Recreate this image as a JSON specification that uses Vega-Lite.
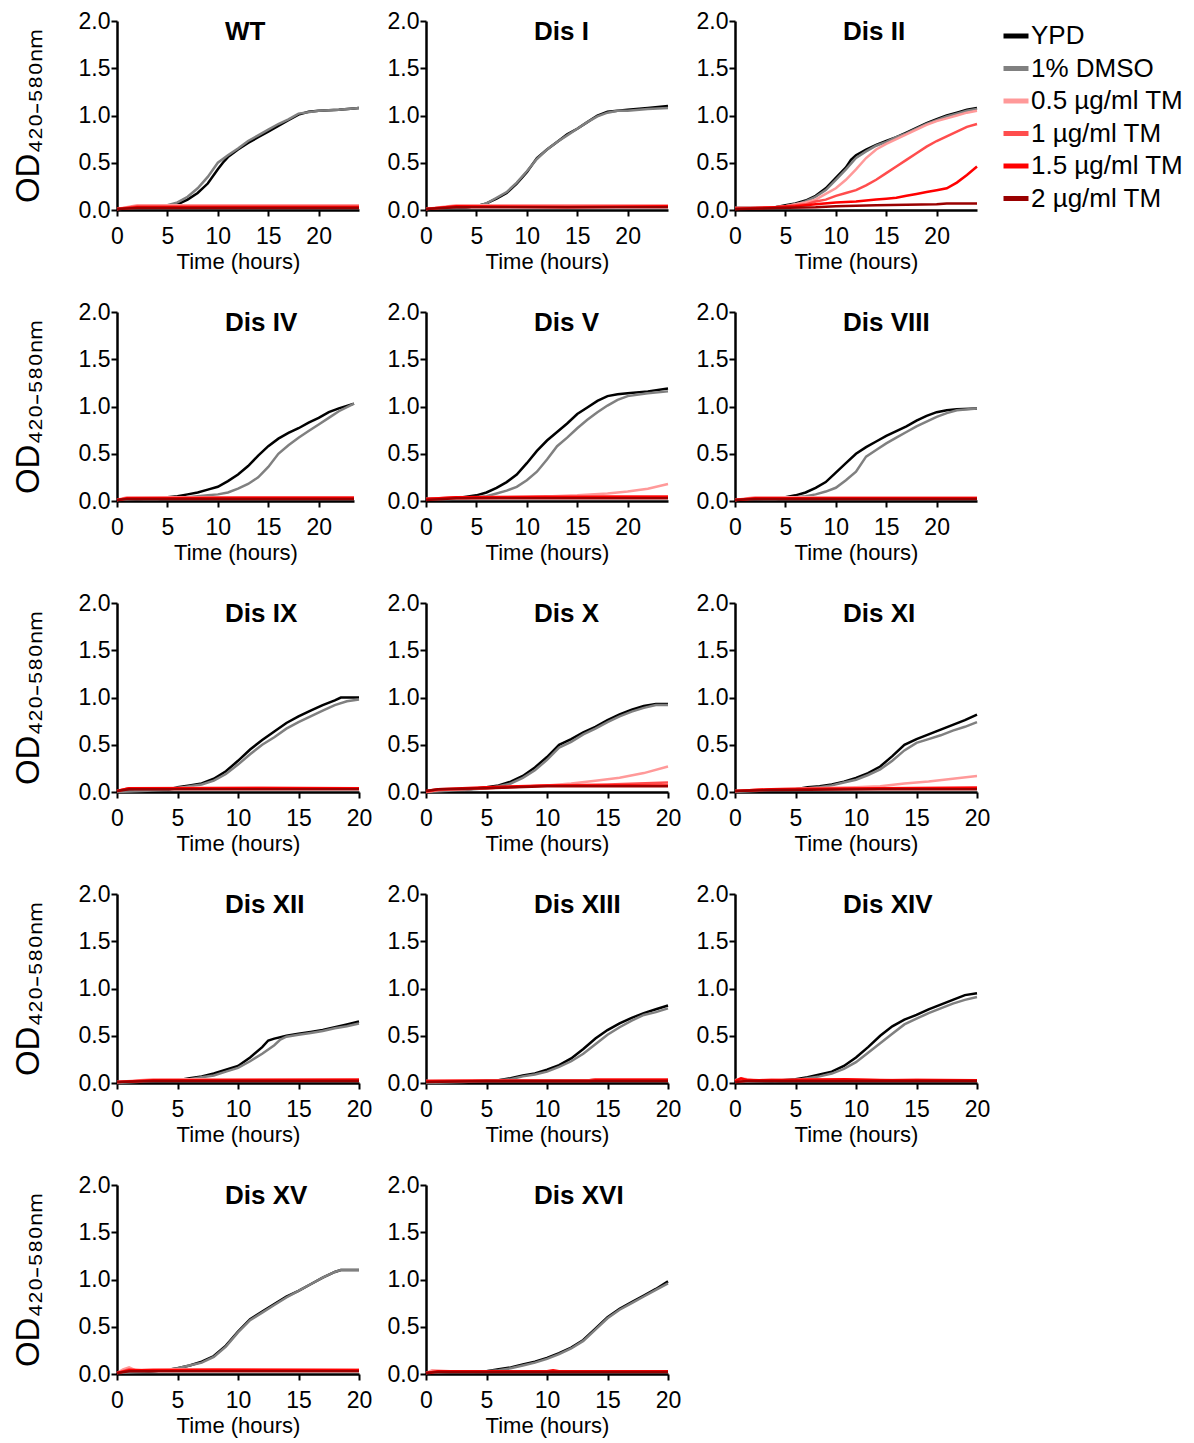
{
"$schema":"https://vega.github.io/schema/vega-lite/v6.json",
"padding":{"left":12,"top":10,"right":5,"bottom":5},
"columns":3,
"spacing":{"row":102,"column":67},
"bounds":"flush",
"datasets":{
"WT":[{"s":"Y","t":0,"v":0.01},{"s":"Y","t":2,"v":0.02},{"s":"Y","t":4,"v":0.03},{"s":"Y","t":5,"v":0.04},{"s":"Y","t":6,"v":0.06},{"s":"Y","t":7,"v":0.11},{"s":"Y","t":8,"v":0.18},{"s":"Y","t":9,"v":0.28},{"s":"Y","t":10,"v":0.43},{"s":"Y","t":10.5,"v":0.5},{"s":"Y","t":11,"v":0.56},{"s":"Y","t":12,"v":0.64},{"s":"Y","t":13,"v":0.71},{"s":"Y","t":14,"v":0.77},{"s":"Y","t":15,"v":0.83},{"s":"Y","t":16,"v":0.89},{"s":"Y","t":17,"v":0.95},{"s":"Y","t":18,"v":1.01},{"s":"Y","t":19,"v":1.04},{"s":"Y","t":20,"v":1.05},{"s":"Y","t":22,"v":1.06},{"s":"Y","t":24,"v":1.08},
{"s":"D","t":0,"v":0.01},{"s":"D","t":2,"v":0.02},{"s":"D","t":4,"v":0.03},{"s":"D","t":5,"v":0.05},{"s":"D","t":6,"v":0.08},{"s":"D","t":7,"v":0.14},{"s":"D","t":8,"v":0.23},{"s":"D","t":9,"v":0.35},{"s":"D","t":10,"v":0.5},{"s":"D","t":11,"v":0.58},{"s":"D","t":12,"v":0.65},{"s":"D","t":13,"v":0.73},{"s":"D","t":14,"v":0.79},{"s":"D","t":15,"v":0.85},{"s":"D","t":16,"v":0.91},{"s":"D","t":17,"v":0.96},{"s":"D","t":18,"v":1.02},{"s":"D","t":20,"v":1.05},{"s":"D","t":22,"v":1.06},{"s":"D","t":24,"v":1.08},
{"s":"a","t":0,"v":0.01},{"s":"a","t":2,"v":0.05},{"s":"a","t":12,"v":0.05},{"s":"a","t":24,"v":0.05},
{"s":"b","t":0,"v":0.01},{"s":"b","t":2,"v":0.04},{"s":"b","t":12,"v":0.04},{"s":"b","t":24,"v":0.04},
{"s":"c","t":0,"v":0.01},{"s":"c","t":2,"v":0.03},{"s":"c","t":12,"v":0.03},{"s":"c","t":24,"v":0.03},
{"s":"d","t":0,"v":0.01},{"s":"d","t":2,"v":0.02},{"s":"d","t":12,"v":0.02},{"s":"d","t":24,"v":0.02}],
"D1":[{"s":"Y","t":0,"v":0.01},{"s":"Y","t":2,"v":0.02},{"s":"Y","t":4,"v":0.03},{"s":"Y","t":5,"v":0.04},{"s":"Y","t":6,"v":0.07},{"s":"Y","t":7,"v":0.12},{"s":"Y","t":8,"v":0.18},{"s":"Y","t":9,"v":0.28},{"s":"Y","t":10,"v":0.4},{"s":"Y","t":11,"v":0.55},{"s":"Y","t":12,"v":0.64},{"s":"Y","t":13,"v":0.72},{"s":"Y","t":14,"v":0.8},{"s":"Y","t":15,"v":0.86},{"s":"Y","t":16,"v":0.93},{"s":"Y","t":17,"v":1.0},{"s":"Y","t":18,"v":1.04},{"s":"Y","t":19,"v":1.05},{"s":"Y","t":20,"v":1.06},{"s":"Y","t":22,"v":1.08},{"s":"Y","t":24,"v":1.1},
{"s":"D","t":0,"v":0.01},{"s":"D","t":2,"v":0.02},{"s":"D","t":4,"v":0.03},{"s":"D","t":5,"v":0.04},{"s":"D","t":6,"v":0.07},{"s":"D","t":7,"v":0.13},{"s":"D","t":8,"v":0.19},{"s":"D","t":9,"v":0.29},{"s":"D","t":10,"v":0.41},{"s":"D","t":11,"v":0.54},{"s":"D","t":12,"v":0.64},{"s":"D","t":13,"v":0.72},{"s":"D","t":14,"v":0.79},{"s":"D","t":15,"v":0.86},{"s":"D","t":16,"v":0.93},{"s":"D","t":17,"v":0.99},{"s":"D","t":18,"v":1.03},{"s":"D","t":19,"v":1.05},{"s":"D","t":20,"v":1.05},{"s":"D","t":22,"v":1.07},{"s":"D","t":24,"v":1.08},
{"s":"a","t":0,"v":0.01},{"s":"a","t":3,"v":0.05},{"s":"a","t":14,"v":0.05},{"s":"a","t":24,"v":0.05},
{"s":"b","t":0,"v":0.01},{"s":"b","t":3,"v":0.04},{"s":"b","t":14,"v":0.04},{"s":"b","t":24,"v":0.04},
{"s":"c","t":0,"v":0.01},{"s":"c","t":3,"v":0.04},{"s":"c","t":14,"v":0.03},{"s":"c","t":24,"v":0.04},
{"s":"d","t":0,"v":0.01},{"s":"d","t":3,"v":0.03},{"s":"d","t":14,"v":0.03},{"s":"d","t":24,"v":0.03}],
"D2":[{"s":"Y","t":0,"v":0.02},{"s":"Y","t":2,"v":0.02},{"s":"Y","t":4,"v":0.03},{"s":"Y","t":5,"v":0.05},{"s":"Y","t":6,"v":0.07},{"s":"Y","t":7,"v":0.1},{"s":"Y","t":8,"v":0.15},{"s":"Y","t":9,"v":0.23},{"s":"Y","t":10,"v":0.34},{"s":"Y","t":11,"v":0.45},{"s":"Y","t":11.5,"v":0.53},{"s":"Y","t":12,"v":0.58},{"s":"Y","t":13,"v":0.64},{"s":"Y","t":14,"v":0.69},{"s":"Y","t":15,"v":0.73},{"s":"Y","t":16,"v":0.77},{"s":"Y","t":17,"v":0.82},{"s":"Y","t":18,"v":0.87},{"s":"Y","t":19,"v":0.92},{"s":"Y","t":20,"v":0.96},{"s":"Y","t":21,"v":1.0},{"s":"Y","t":22,"v":1.03},{"s":"Y","t":23,"v":1.06},{"s":"Y","t":24,"v":1.08},
{"s":"D","t":0,"v":0.02},{"s":"D","t":2,"v":0.02},{"s":"D","t":4,"v":0.03},{"s":"D","t":5,"v":0.04},{"s":"D","t":6,"v":0.06},{"s":"D","t":7,"v":0.09},{"s":"D","t":8,"v":0.14},{"s":"D","t":9,"v":0.21},{"s":"D","t":10,"v":0.32},{"s":"D","t":11,"v":0.43},{"s":"D","t":12,"v":0.55},{"s":"D","t":13,"v":0.62},{"s":"D","t":14,"v":0.68},{"s":"D","t":15,"v":0.72},{"s":"D","t":16,"v":0.77},{"s":"D","t":17,"v":0.81},{"s":"D","t":18,"v":0.86},{"s":"D","t":19,"v":0.91},{"s":"D","t":20,"v":0.95},{"s":"D","t":21,"v":0.99},{"s":"D","t":22,"v":1.02},{"s":"D","t":23,"v":1.05},{"s":"D","t":24,"v":1.07},
{"s":"a","t":0,"v":0.02},{"s":"a","t":2,"v":0.02},{"s":"a","t":4,"v":0.03},{"s":"a","t":5,"v":0.04},{"s":"a","t":6,"v":0.06},{"s":"a","t":7,"v":0.08},{"s":"a","t":8,"v":0.11},{"s":"a","t":9,"v":0.17},{"s":"a","t":10,"v":0.23},{"s":"a","t":11,"v":0.32},{"s":"a","t":12,"v":0.43},{"s":"a","t":13,"v":0.55},{"s":"a","t":14,"v":0.64},{"s":"a","t":15,"v":0.7},{"s":"a","t":16,"v":0.75},{"s":"a","t":17,"v":0.8},{"s":"a","t":18,"v":0.85},{"s":"a","t":19,"v":0.9},{"s":"a","t":20,"v":0.94},{"s":"a","t":21,"v":0.97},{"s":"a","t":22,"v":1.0},{"s":"a","t":23,"v":1.03},{"s":"a","t":24,"v":1.05},
{"s":"b","t":0,"v":0.02},{"s":"b","t":2,"v":0.02},{"s":"b","t":4,"v":0.03},{"s":"b","t":5,"v":0.04},{"s":"b","t":6,"v":0.05},{"s":"b","t":7,"v":0.06},{"s":"b","t":8,"v":0.09},{"s":"b","t":9,"v":0.11},{"s":"b","t":10,"v":0.15},{"s":"b","t":11,"v":0.18},{"s":"b","t":12,"v":0.21},{"s":"b","t":13,"v":0.26},{"s":"b","t":14,"v":0.32},{"s":"b","t":15,"v":0.39},{"s":"b","t":16,"v":0.46},{"s":"b","t":17,"v":0.53},{"s":"b","t":18,"v":0.6},{"s":"b","t":19,"v":0.67},{"s":"b","t":20,"v":0.73},{"s":"b","t":21,"v":0.78},{"s":"b","t":22,"v":0.83},{"s":"b","t":23,"v":0.88},{"s":"b","t":24,"v":0.91},
{"s":"c","t":0,"v":0.01},{"s":"c","t":2,"v":0.02},{"s":"c","t":4,"v":0.03},{"s":"c","t":6,"v":0.04},{"s":"c","t":8,"v":0.06},{"s":"c","t":10,"v":0.08},{"s":"c","t":12,"v":0.09},{"s":"c","t":14,"v":0.11},{"s":"c","t":15,"v":0.12},{"s":"c","t":16,"v":0.13},{"s":"c","t":17,"v":0.15},{"s":"c","t":18,"v":0.17},{"s":"c","t":19,"v":0.19},{"s":"c","t":20,"v":0.21},{"s":"c","t":21,"v":0.23},{"s":"c","t":22,"v":0.29},{"s":"c","t":23,"v":0.37},{"s":"c","t":24,"v":0.46},
{"s":"d","t":0,"v":0.01},{"s":"d","t":4,"v":0.02},{"s":"d","t":8,"v":0.03},{"s":"d","t":10,"v":0.04},{"s":"d","t":14,"v":0.05},{"s":"d","t":20,"v":0.06},{"s":"d","t":21,"v":0.07},{"s":"d","t":24,"v":0.07}],
"D4":[{"s":"Y","t":0,"v":0.01},{"s":"Y","t":2,"v":0.02},{"s":"Y","t":4,"v":0.03},{"s":"Y","t":5,"v":0.04},{"s":"Y","t":6,"v":0.05},{"s":"Y","t":7,"v":0.07},{"s":"Y","t":8,"v":0.09},{"s":"Y","t":9,"v":0.12},{"s":"Y","t":10,"v":0.15},{"s":"Y","t":11,"v":0.21},{"s":"Y","t":12,"v":0.28},{"s":"Y","t":13,"v":0.37},{"s":"Y","t":14,"v":0.48},{"s":"Y","t":15,"v":0.58},{"s":"Y","t":16,"v":0.66},{"s":"Y","t":17,"v":0.72},{"s":"Y","t":18,"v":0.77},{"s":"Y","t":19,"v":0.83},{"s":"Y","t":20,"v":0.88},{"s":"Y","t":21,"v":0.94},{"s":"Y","t":22,"v":0.98},{"s":"Y","t":23.5,"v":1.03},
{"s":"D","t":0,"v":0.01},{"s":"D","t":2,"v":0.02},{"s":"D","t":4,"v":0.02},{"s":"D","t":5,"v":0.03},{"s":"D","t":6,"v":0.03},{"s":"D","t":7,"v":0.04},{"s":"D","t":8,"v":0.05},{"s":"D","t":9,"v":0.06},{"s":"D","t":10,"v":0.07},{"s":"D","t":11,"v":0.09},{"s":"D","t":12,"v":0.13},{"s":"D","t":13,"v":0.18},{"s":"D","t":14,"v":0.25},{"s":"D","t":15,"v":0.36},{"s":"D","t":16,"v":0.5},{"s":"D","t":17,"v":0.59},{"s":"D","t":18,"v":0.67},{"s":"D","t":19,"v":0.74},{"s":"D","t":20,"v":0.81},{"s":"D","t":21,"v":0.88},{"s":"D","t":22,"v":0.95},{"s":"D","t":23.5,"v":1.03},
{"s":"a","t":0,"v":0.01},{"s":"a","t":1,"v":0.04},{"s":"a","t":12,"v":0.04},{"s":"a","t":23.5,"v":0.04},
{"s":"b","t":0,"v":0.01},{"s":"b","t":1,"v":0.03},{"s":"b","t":12,"v":0.04},{"s":"b","t":23.5,"v":0.04},
{"s":"c","t":0,"v":0.01},{"s":"c","t":1,"v":0.03},{"s":"c","t":12,"v":0.03},{"s":"c","t":23.5,"v":0.03},
{"s":"d","t":0,"v":0.01},{"s":"d","t":1,"v":0.02},{"s":"d","t":12,"v":0.02},{"s":"d","t":23.5,"v":0.02}],
"D5":[{"s":"Y","t":0,"v":0.02},{"s":"Y","t":2,"v":0.03},{"s":"Y","t":3,"v":0.03},{"s":"Y","t":5,"v":0.06},{"s":"Y","t":6,"v":0.09},{"s":"Y","t":7,"v":0.14},{"s":"Y","t":8,"v":0.2},{"s":"Y","t":9,"v":0.28},{"s":"Y","t":10,"v":0.4},{"s":"Y","t":11,"v":0.53},{"s":"Y","t":12,"v":0.64},{"s":"Y","t":13,"v":0.73},{"s":"Y","t":14,"v":0.82},{"s":"Y","t":15,"v":0.92},{"s":"Y","t":16,"v":0.99},{"s":"Y","t":17,"v":1.06},{"s":"Y","t":18,"v":1.11},{"s":"Y","t":19,"v":1.13},{"s":"Y","t":20,"v":1.14},{"s":"Y","t":22,"v":1.16},{"s":"Y","t":24,"v":1.19},
{"s":"D","t":0,"v":0.02},{"s":"D","t":2,"v":0.02},{"s":"D","t":4,"v":0.03},{"s":"D","t":5,"v":0.04},{"s":"D","t":6,"v":0.05},{"s":"D","t":7,"v":0.08},{"s":"D","t":8,"v":0.11},{"s":"D","t":9,"v":0.15},{"s":"D","t":10,"v":0.22},{"s":"D","t":11,"v":0.31},{"s":"D","t":12,"v":0.44},{"s":"D","t":13,"v":0.58},{"s":"D","t":14,"v":0.67},{"s":"D","t":15,"v":0.77},{"s":"D","t":16,"v":0.86},{"s":"D","t":17,"v":0.94},{"s":"D","t":18,"v":1.01},{"s":"D","t":19,"v":1.07},{"s":"D","t":20,"v":1.11},{"s":"D","t":22,"v":1.14},{"s":"D","t":24,"v":1.16},
{"s":"a","t":0,"v":0.02},{"s":"a","t":5,"v":0.03},{"s":"a","t":10,"v":0.04},{"s":"a","t":15,"v":0.06},{"s":"a","t":18,"v":0.08},{"s":"a","t":20,"v":0.1},{"s":"a","t":22,"v":0.13},{"s":"a","t":24,"v":0.18},
{"s":"b","t":0,"v":0.02},{"s":"b","t":3,"v":0.04},{"s":"b","t":12,"v":0.05},{"s":"b","t":24,"v":0.05},
{"s":"c","t":0,"v":0.02},{"s":"c","t":3,"v":0.04},{"s":"c","t":12,"v":0.04},{"s":"c","t":24,"v":0.04},
{"s":"d","t":0,"v":0.01},{"s":"d","t":3,"v":0.03},{"s":"d","t":12,"v":0.03},{"s":"d","t":24,"v":0.03}],
"D8":[{"s":"Y","t":0,"v":0.01},{"s":"Y","t":2,"v":0.02},{"s":"Y","t":4,"v":0.03},{"s":"Y","t":5,"v":0.04},{"s":"Y","t":6,"v":0.06},{"s":"Y","t":7,"v":0.09},{"s":"Y","t":8,"v":0.14},{"s":"Y","t":9,"v":0.2},{"s":"Y","t":10,"v":0.3},{"s":"Y","t":11,"v":0.4},{"s":"Y","t":12,"v":0.5},{"s":"Y","t":13,"v":0.57},{"s":"Y","t":14,"v":0.63},{"s":"Y","t":15,"v":0.69},{"s":"Y","t":16,"v":0.74},{"s":"Y","t":17,"v":0.79},{"s":"Y","t":18,"v":0.85},{"s":"Y","t":19,"v":0.9},{"s":"Y","t":20,"v":0.94},{"s":"Y","t":21,"v":0.96},{"s":"Y","t":22,"v":0.97},{"s":"Y","t":24,"v":0.98},
{"s":"D","t":0,"v":0.01},{"s":"D","t":2,"v":0.02},{"s":"D","t":4,"v":0.02},{"s":"D","t":5,"v":0.03},{"s":"D","t":6,"v":0.04},{"s":"D","t":7,"v":0.05},{"s":"D","t":8,"v":0.07},{"s":"D","t":9,"v":0.1},{"s":"D","t":10,"v":0.14},{"s":"D","t":11,"v":0.22},{"s":"D","t":12,"v":0.31},{"s":"D","t":13,"v":0.47},{"s":"D","t":14,"v":0.54},{"s":"D","t":15,"v":0.61},{"s":"D","t":16,"v":0.67},{"s":"D","t":17,"v":0.73},{"s":"D","t":18,"v":0.79},{"s":"D","t":19,"v":0.84},{"s":"D","t":20,"v":0.89},{"s":"D","t":21,"v":0.93},{"s":"D","t":22,"v":0.96},{"s":"D","t":24,"v":0.98},
{"s":"a","t":0,"v":0.01},{"s":"a","t":2,"v":0.04},{"s":"a","t":12,"v":0.04},{"s":"a","t":24,"v":0.04},
{"s":"b","t":0,"v":0.01},{"s":"b","t":2,"v":0.03},{"s":"b","t":12,"v":0.03},{"s":"b","t":24,"v":0.03},
{"s":"c","t":0,"v":0.01},{"s":"c","t":2,"v":0.03},{"s":"c","t":12,"v":0.03},{"s":"c","t":24,"v":0.03},
{"s":"d","t":0,"v":0.01},{"s":"d","t":2,"v":0.02},{"s":"d","t":12,"v":0.02},{"s":"d","t":24,"v":0.02}],
"D9":[{"s":"Y","t":0,"v":0.0},{"s":"Y","t":2,"v":0.01},{"s":"Y","t":4,"v":0.02},{"s":"Y","t":5,"v":0.05},{"s":"Y","t":6,"v":0.07},{"s":"Y","t":7,"v":0.09},{"s":"Y","t":8,"v":0.14},{"s":"Y","t":9,"v":0.22},{"s":"Y","t":10,"v":0.33},{"s":"Y","t":11,"v":0.45},{"s":"Y","t":12,"v":0.55},{"s":"Y","t":13,"v":0.64},{"s":"Y","t":14,"v":0.73},{"s":"Y","t":15,"v":0.8},{"s":"Y","t":16,"v":0.86},{"s":"Y","t":17,"v":0.92},{"s":"Y","t":18,"v":0.97},{"s":"Y","t":18.5,"v":1.0},{"s":"Y","t":20,"v":1.0},
{"s":"D","t":0,"v":0.0},{"s":"D","t":2,"v":0.01},{"s":"D","t":4,"v":0.02},{"s":"D","t":5,"v":0.04},{"s":"D","t":6,"v":0.06},{"s":"D","t":7,"v":0.08},{"s":"D","t":8,"v":0.12},{"s":"D","t":9,"v":0.19},{"s":"D","t":10,"v":0.29},{"s":"D","t":11,"v":0.4},{"s":"D","t":12,"v":0.5},{"s":"D","t":13,"v":0.58},{"s":"D","t":14,"v":0.67},{"s":"D","t":15,"v":0.74},{"s":"D","t":16,"v":0.8},{"s":"D","t":17,"v":0.86},{"s":"D","t":18,"v":0.92},{"s":"D","t":19,"v":0.96},{"s":"D","t":20,"v":0.98},
{"s":"a","t":0,"v":0.01},{"s":"a","t":1,"v":0.04},{"s":"a","t":12,"v":0.05},{"s":"a","t":20,"v":0.04},
{"s":"b","t":0,"v":0.01},{"s":"b","t":1,"v":0.04},{"s":"b","t":12,"v":0.04},{"s":"b","t":20,"v":0.04},
{"s":"c","t":0,"v":0.01},{"s":"c","t":1,"v":0.04},{"s":"c","t":12,"v":0.04},{"s":"c","t":20,"v":0.04},
{"s":"d","t":0,"v":0.01},{"s":"d","t":1,"v":0.03},{"s":"d","t":12,"v":0.03},{"s":"d","t":20,"v":0.03}],
"D10":[{"s":"Y","t":0,"v":0.0},{"s":"Y","t":3,"v":0.02},{"s":"Y","t":5,"v":0.05},{"s":"Y","t":6,"v":0.07},{"s":"Y","t":7,"v":0.11},{"s":"Y","t":8,"v":0.17},{"s":"Y","t":9,"v":0.26},{"s":"Y","t":10,"v":0.37},{"s":"Y","t":11,"v":0.5},{"s":"Y","t":12,"v":0.56},{"s":"Y","t":13,"v":0.63},{"s":"Y","t":14,"v":0.69},{"s":"Y","t":15,"v":0.76},{"s":"Y","t":16,"v":0.82},{"s":"Y","t":17,"v":0.87},{"s":"Y","t":18,"v":0.91},{"s":"Y","t":19,"v":0.93},{"s":"Y","t":20,"v":0.93},
{"s":"D","t":0,"v":0.0},{"s":"D","t":3,"v":0.02},{"s":"D","t":5,"v":0.04},{"s":"D","t":6,"v":0.06},{"s":"D","t":7,"v":0.09},{"s":"D","t":8,"v":0.15},{"s":"D","t":9,"v":0.23},{"s":"D","t":10,"v":0.34},{"s":"D","t":11,"v":0.47},{"s":"D","t":12,"v":0.53},{"s":"D","t":13,"v":0.61},{"s":"D","t":14,"v":0.67},{"s":"D","t":15,"v":0.74},{"s":"D","t":16,"v":0.8},{"s":"D","t":17,"v":0.85},{"s":"D","t":18,"v":0.89},{"s":"D","t":19,"v":0.92},{"s":"D","t":20,"v":0.92},
{"s":"a","t":0,"v":0.0},{"s":"a","t":1,"v":0.02},{"s":"a","t":5,"v":0.04},{"s":"a","t":10,"v":0.07},{"s":"a","t":12,"v":0.09},{"s":"a","t":14,"v":0.12},{"s":"a","t":16,"v":0.15},{"s":"a","t":18,"v":0.2},{"s":"a","t":20,"v":0.27},
{"s":"b","t":0,"v":0.0},{"s":"b","t":1,"v":0.02},{"s":"b","t":5,"v":0.04},{"s":"b","t":10,"v":0.07},{"s":"b","t":15,"v":0.08},{"s":"b","t":20,"v":0.1},
{"s":"c","t":0,"v":0.01},{"s":"c","t":1,"v":0.03},{"s":"c","t":5,"v":0.05},{"s":"c","t":10,"v":0.07},{"s":"c","t":20,"v":0.07},
{"s":"d","t":0,"v":0.01},{"s":"d","t":1,"v":0.03},{"s":"d","t":5,"v":0.04},{"s":"d","t":10,"v":0.06},{"s":"d","t":20,"v":0.06}],
"D11":[{"s":"Y","t":0,"v":0.0},{"s":"Y","t":3,"v":0.02},{"s":"Y","t":5,"v":0.03},{"s":"Y","t":6,"v":0.05},{"s":"Y","t":7,"v":0.06},{"s":"Y","t":8,"v":0.08},{"s":"Y","t":9,"v":0.11},{"s":"Y","t":10,"v":0.15},{"s":"Y","t":11,"v":0.2},{"s":"Y","t":12,"v":0.27},{"s":"Y","t":13,"v":0.38},{"s":"Y","t":14,"v":0.5},{"s":"Y","t":15,"v":0.56},{"s":"Y","t":16,"v":0.61},{"s":"Y","t":17,"v":0.66},{"s":"Y","t":18,"v":0.71},{"s":"Y","t":19,"v":0.76},{"s":"Y","t":20,"v":0.82},
{"s":"D","t":0,"v":0.0},{"s":"D","t":3,"v":0.02},{"s":"D","t":5,"v":0.03},{"s":"D","t":6,"v":0.04},{"s":"D","t":7,"v":0.05},{"s":"D","t":8,"v":0.07},{"s":"D","t":9,"v":0.1},{"s":"D","t":10,"v":0.13},{"s":"D","t":11,"v":0.18},{"s":"D","t":12,"v":0.24},{"s":"D","t":13,"v":0.33},{"s":"D","t":14,"v":0.44},{"s":"D","t":15,"v":0.52},{"s":"D","t":16,"v":0.56},{"s":"D","t":17,"v":0.6},{"s":"D","t":18,"v":0.65},{"s":"D","t":19,"v":0.69},{"s":"D","t":20,"v":0.74},
{"s":"a","t":0,"v":0.01},{"s":"a","t":3,"v":0.03},{"s":"a","t":6,"v":0.04},{"s":"a","t":10,"v":0.05},{"s":"a","t":12,"v":0.06},{"s":"a","t":14,"v":0.09},{"s":"a","t":16,"v":0.11},{"s":"a","t":18,"v":0.14},{"s":"a","t":20,"v":0.17},
{"s":"b","t":0,"v":0.01},{"s":"b","t":3,"v":0.03},{"s":"b","t":12,"v":0.04},{"s":"b","t":20,"v":0.05},
{"s":"c","t":0,"v":0.01},{"s":"c","t":3,"v":0.03},{"s":"c","t":12,"v":0.04},{"s":"c","t":20,"v":0.04},
{"s":"d","t":0,"v":0.01},{"s":"d","t":3,"v":0.02},{"s":"d","t":12,"v":0.03},{"s":"d","t":20,"v":0.03}],
"D12":[{"s":"Y","t":0,"v":0.0},{"s":"Y","t":3,"v":0.02},{"s":"Y","t":5,"v":0.03},{"s":"Y","t":6,"v":0.05},{"s":"Y","t":7,"v":0.07},{"s":"Y","t":8,"v":0.1},{"s":"Y","t":9,"v":0.14},{"s":"Y","t":10,"v":0.18},{"s":"Y","t":11,"v":0.27},{"s":"Y","t":12,"v":0.38},{"s":"Y","t":12.5,"v":0.45},{"s":"Y","t":13,"v":0.47},{"s":"Y","t":14,"v":0.5},{"s":"Y","t":15,"v":0.52},{"s":"Y","t":16,"v":0.54},{"s":"Y","t":17,"v":0.56},{"s":"Y","t":18,"v":0.59},{"s":"Y","t":19,"v":0.62},{"s":"Y","t":20,"v":0.65},
{"s":"D","t":0,"v":0.0},{"s":"D","t":3,"v":0.02},{"s":"D","t":5,"v":0.03},{"s":"D","t":6,"v":0.04},{"s":"D","t":7,"v":0.06},{"s":"D","t":8,"v":0.08},{"s":"D","t":9,"v":0.12},{"s":"D","t":10,"v":0.16},{"s":"D","t":11,"v":0.23},{"s":"D","t":12,"v":0.31},{"s":"D","t":13,"v":0.4},{"s":"D","t":13.5,"v":0.46},{"s":"D","t":14,"v":0.49},{"s":"D","t":15,"v":0.51},{"s":"D","t":16,"v":0.53},{"s":"D","t":17,"v":0.55},{"s":"D","t":18,"v":0.58},{"s":"D","t":19,"v":0.6},{"s":"D","t":20,"v":0.63},
{"s":"a","t":0,"v":0.01},{"s":"a","t":3,"v":0.04},{"s":"a","t":20,"v":0.04},
{"s":"b","t":0,"v":0.01},{"s":"b","t":3,"v":0.03},{"s":"b","t":20,"v":0.04},
{"s":"c","t":0,"v":0.01},{"s":"c","t":3,"v":0.03},{"s":"c","t":20,"v":0.03},
{"s":"d","t":0,"v":0.01},{"s":"d","t":3,"v":0.02},{"s":"d","t":20,"v":0.02}],
"D13":[{"s":"Y","t":0,"v":0.0},{"s":"Y","t":3,"v":0.01},{"s":"Y","t":5,"v":0.02},{"s":"Y","t":6,"v":0.03},{"s":"Y","t":7,"v":0.05},{"s":"Y","t":8,"v":0.08},{"s":"Y","t":9,"v":0.1},{"s":"Y","t":10,"v":0.14},{"s":"Y","t":11,"v":0.19},{"s":"Y","t":12,"v":0.26},{"s":"Y","t":13,"v":0.36},{"s":"Y","t":14,"v":0.47},{"s":"Y","t":15,"v":0.56},{"s":"Y","t":16,"v":0.63},{"s":"Y","t":17,"v":0.69},{"s":"Y","t":18,"v":0.74},{"s":"Y","t":19,"v":0.78},{"s":"Y","t":20,"v":0.82},
{"s":"D","t":0,"v":0.0},{"s":"D","t":3,"v":0.01},{"s":"D","t":5,"v":0.02},{"s":"D","t":6,"v":0.03},{"s":"D","t":7,"v":0.04},{"s":"D","t":8,"v":0.07},{"s":"D","t":9,"v":0.09},{"s":"D","t":10,"v":0.12},{"s":"D","t":11,"v":0.17},{"s":"D","t":12,"v":0.23},{"s":"D","t":13,"v":0.31},{"s":"D","t":14,"v":0.41},{"s":"D","t":15,"v":0.51},{"s":"D","t":16,"v":0.59},{"s":"D","t":17,"v":0.66},{"s":"D","t":18,"v":0.72},{"s":"D","t":19,"v":0.75},{"s":"D","t":20,"v":0.79},
{"s":"a","t":0,"v":0.02},{"s":"a","t":5,"v":0.03},{"s":"a","t":13.5,"v":0.03},{"s":"a","t":14,"v":0.04},{"s":"a","t":20,"v":0.04},
{"s":"b","t":0,"v":0.02},{"s":"b","t":5,"v":0.03},{"s":"b","t":13.5,"v":0.03},{"s":"b","t":14,"v":0.04},{"s":"b","t":20,"v":0.04},
{"s":"c","t":0,"v":0.02},{"s":"c","t":5,"v":0.02},{"s":"c","t":13.5,"v":0.02},{"s":"c","t":14,"v":0.03},{"s":"c","t":20,"v":0.03},
{"s":"d","t":0,"v":0.01},{"s":"d","t":5,"v":0.02},{"s":"d","t":20,"v":0.02}],
"D14":[{"s":"Y","t":0,"v":0.01},{"s":"Y","t":3,"v":0.02},{"s":"Y","t":5,"v":0.04},{"s":"Y","t":6,"v":0.06},{"s":"Y","t":7,"v":0.09},{"s":"Y","t":8,"v":0.12},{"s":"Y","t":9,"v":0.18},{"s":"Y","t":10,"v":0.27},{"s":"Y","t":11,"v":0.38},{"s":"Y","t":12,"v":0.5},{"s":"Y","t":13,"v":0.6},{"s":"Y","t":14,"v":0.67},{"s":"Y","t":15,"v":0.72},{"s":"Y","t":16,"v":0.78},{"s":"Y","t":17,"v":0.83},{"s":"Y","t":18,"v":0.88},{"s":"Y","t":19,"v":0.93},{"s":"Y","t":20,"v":0.95},
{"s":"D","t":0,"v":0.01},{"s":"D","t":3,"v":0.02},{"s":"D","t":5,"v":0.03},{"s":"D","t":6,"v":0.05},{"s":"D","t":7,"v":0.07},{"s":"D","t":8,"v":0.1},{"s":"D","t":9,"v":0.15},{"s":"D","t":10,"v":0.22},{"s":"D","t":11,"v":0.32},{"s":"D","t":12,"v":0.42},{"s":"D","t":13,"v":0.52},{"s":"D","t":14,"v":0.62},{"s":"D","t":15,"v":0.68},{"s":"D","t":16,"v":0.74},{"s":"D","t":17,"v":0.79},{"s":"D","t":18,"v":0.84},{"s":"D","t":19,"v":0.88},{"s":"D","t":20,"v":0.91},
{"s":"a","t":0,"v":0.03},{"s":"a","t":0.5,"v":0.05},{"s":"a","t":1,"v":0.04},{"s":"a","t":2,"v":0.03},{"s":"a","t":3,"v":0.04},{"s":"a","t":5,"v":0.03},{"s":"a","t":8,"v":0.04},{"s":"a","t":12,"v":0.03},{"s":"a","t":15,"v":0.04},{"s":"a","t":20,"v":0.03},
{"s":"b","t":0,"v":0.02},{"s":"b","t":0.5,"v":0.04},{"s":"b","t":1.5,"v":0.03},{"s":"b","t":3,"v":0.03},{"s":"b","t":6,"v":0.04},{"s":"b","t":10,"v":0.03},{"s":"b","t":14,"v":0.03},{"s":"b","t":20,"v":0.03},
{"s":"c","t":0,"v":0.02},{"s":"c","t":0.5,"v":0.05},{"s":"c","t":1,"v":0.03},{"s":"c","t":4,"v":0.03},{"s":"c","t":9,"v":0.04},{"s":"c","t":13,"v":0.03},{"s":"c","t":20,"v":0.03},
{"s":"d","t":0,"v":0.01},{"s":"d","t":1,"v":0.02},{"s":"d","t":20,"v":0.02}],
"D15":[{"s":"Y","t":0,"v":0.01},{"s":"Y","t":2,"v":0.02},{"s":"Y","t":4,"v":0.04},{"s":"Y","t":5,"v":0.06},{"s":"Y","t":6,"v":0.09},{"s":"Y","t":7,"v":0.13},{"s":"Y","t":8,"v":0.19},{"s":"Y","t":9,"v":0.3},{"s":"Y","t":10,"v":0.45},{"s":"Y","t":11,"v":0.58},{"s":"Y","t":12,"v":0.66},{"s":"Y","t":13,"v":0.74},{"s":"Y","t":14,"v":0.82},{"s":"Y","t":15,"v":0.88},{"s":"Y","t":16,"v":0.95},{"s":"Y","t":17,"v":1.02},{"s":"Y","t":18,"v":1.08},{"s":"Y","t":18.5,"v":1.1},{"s":"Y","t":20,"v":1.1},
{"s":"D","t":0,"v":0.01},{"s":"D","t":2,"v":0.02},{"s":"D","t":4,"v":0.04},{"s":"D","t":5,"v":0.06},{"s":"D","t":6,"v":0.09},{"s":"D","t":7,"v":0.12},{"s":"D","t":8,"v":0.18},{"s":"D","t":9,"v":0.29},{"s":"D","t":10,"v":0.44},{"s":"D","t":11,"v":0.57},{"s":"D","t":12,"v":0.65},{"s":"D","t":13,"v":0.73},{"s":"D","t":14,"v":0.81},{"s":"D","t":15,"v":0.88},{"s":"D","t":16,"v":0.95},{"s":"D","t":17,"v":1.02},{"s":"D","t":18,"v":1.08},{"s":"D","t":18.5,"v":1.1},{"s":"D","t":20,"v":1.1},
{"s":"a","t":0,"v":0.01},{"s":"a","t":0.5,"v":0.05},{"s":"a","t":1,"v":0.07},{"s":"a","t":1.5,"v":0.04},{"s":"a","t":3,"v":0.05},{"s":"a","t":10,"v":0.05},{"s":"a","t":14,"v":0.05},{"s":"a","t":20,"v":0.05},
{"s":"b","t":0,"v":0.01},{"s":"b","t":1,"v":0.05},{"s":"b","t":2,"v":0.04},{"s":"b","t":8,"v":0.05},{"s":"b","t":20,"v":0.04},
{"s":"c","t":0,"v":0.01},{"s":"c","t":1,"v":0.04},{"s":"c","t":3,"v":0.04},{"s":"c","t":20,"v":0.04},
{"s":"d","t":0,"v":0.01},{"s":"d","t":1,"v":0.03},{"s":"d","t":20,"v":0.03}],
"D16":[{"s":"Y","t":0,"v":0.01},{"s":"Y","t":2,"v":0.02},{"s":"Y","t":4,"v":0.02},{"s":"Y","t":5,"v":0.03},{"s":"Y","t":6,"v":0.05},{"s":"Y","t":7,"v":0.07},{"s":"Y","t":8,"v":0.1},{"s":"Y","t":9,"v":0.13},{"s":"Y","t":10,"v":0.17},{"s":"Y","t":11,"v":0.22},{"s":"Y","t":12,"v":0.28},{"s":"Y","t":13,"v":0.36},{"s":"Y","t":14,"v":0.48},{"s":"Y","t":15,"v":0.6},{"s":"Y","t":16,"v":0.69},{"s":"Y","t":17,"v":0.76},{"s":"Y","t":18,"v":0.83},{"s":"Y","t":19,"v":0.9},{"s":"Y","t":20,"v":0.98},
{"s":"D","t":0,"v":0.01},{"s":"D","t":2,"v":0.02},{"s":"D","t":4,"v":0.02},{"s":"D","t":5,"v":0.03},{"s":"D","t":6,"v":0.04},{"s":"D","t":7,"v":0.06},{"s":"D","t":8,"v":0.09},{"s":"D","t":9,"v":0.12},{"s":"D","t":10,"v":0.16},{"s":"D","t":11,"v":0.21},{"s":"D","t":12,"v":0.27},{"s":"D","t":13,"v":0.35},{"s":"D","t":14,"v":0.47},{"s":"D","t":15,"v":0.59},{"s":"D","t":16,"v":0.68},{"s":"D","t":17,"v":0.75},{"s":"D","t":18,"v":0.82},{"s":"D","t":19,"v":0.89},{"s":"D","t":20,"v":0.96},
{"s":"a","t":0,"v":0.01},{"s":"a","t":0.5,"v":0.04},{"s":"a","t":2,"v":0.03},{"s":"a","t":20,"v":0.03},
{"s":"b","t":0,"v":0.01},{"s":"b","t":1,"v":0.03},{"s":"b","t":20,"v":0.03},
{"s":"c","t":0,"v":0.01},{"s":"c","t":1,"v":0.03},{"s":"c","t":10,"v":0.03},{"s":"c","t":10.5,"v":0.04},{"s":"c","t":11,"v":0.03},{"s":"c","t":20,"v":0.03},
{"s":"d","t":0,"v":0.01},{"s":"d","t":1,"v":0.02},{"s":"d","t":20,"v":0.02}]
},
"concat":[
{"width":242,"height":189,"layer":[{"data":{"name":"WT"},"mark":{"type":"line","strokeWidth":2.5},"encoding":{"x":{"field":"t","type":"quantitative","scale":{"domain":[0,24],"nice":false},"axis":{"values":[0,5,10,15,20],"title":"Time (hours)"}},"y":{"field":"v","type":"quantitative","scale":{"domain":[0,2],"nice":false},"axis":{"values":[0,0.5,1,1.5,2],"format":".1f","title":"OD₄₂₀₋₅₈₀ₙₘ"}},"color":{"field":"s","type":"nominal","scale":{"domain":["Y","D","a","b","c","d"],"range":["#000000","#808080","#ff9999","#ff4d4d","#ff0000","#990000"]},"legend":{"title":null,"labelExpr":"datum.label=='Y'?'YPD':datum.label=='D'?'1% DMSO':datum.label=='a'?'0.5 µg/ml TM':datum.label=='b'?'1 µg/ml TM':datum.label=='c'?'1.5 µg/ml TM':'2 µg/ml TM'"}}}},{"data":{"values":[{"n":"WT"}]},"mark":{"type":"text","align":"left","baseline":"alphabetic","fontSize":26,"fontWeight":"bold","font":"Liberation Sans","color":"#000000"},"encoding":{"x":{"datum":10.71},"y":{"datum":1.8},"text":{"field":"n"}}}]},
{"width":242,"height":189,"layer":[{"data":{"name":"D1"},"mark":{"type":"line","strokeWidth":2.5},"encoding":{"x":{"field":"t","type":"quantitative","scale":{"domain":[0,24],"nice":false},"axis":{"values":[0,5,10,15,20],"title":"Time (hours)"}},"y":{"field":"v","type":"quantitative","scale":{"domain":[0,2],"nice":false},"axis":{"values":[0,0.5,1,1.5,2],"format":".1f","title":null}},"color":{"field":"s","type":"nominal"}}},{"data":{"values":[{"n":"Dis I"}]},"mark":{"type":"text","align":"left","baseline":"alphabetic","fontSize":26,"fontWeight":"bold","font":"Liberation Sans","color":"#000000"},"encoding":{"x":{"datum":10.71},"y":{"datum":1.8},"text":{"field":"n"}}}]},
{"width":242,"height":189,"layer":[{"data":{"name":"D2"},"mark":{"type":"line","strokeWidth":2.5},"encoding":{"x":{"field":"t","type":"quantitative","scale":{"domain":[0,24],"nice":false},"axis":{"values":[0,5,10,15,20],"title":"Time (hours)"}},"y":{"field":"v","type":"quantitative","scale":{"domain":[0,2],"nice":false},"axis":{"values":[0,0.5,1,1.5,2],"format":".1f","title":null}},"color":{"field":"s","type":"nominal"}}},{"data":{"values":[{"n":"Dis II"}]},"mark":{"type":"text","align":"left","baseline":"alphabetic","fontSize":26,"fontWeight":"bold","font":"Liberation Sans","color":"#000000"},"encoding":{"x":{"datum":10.71},"y":{"datum":1.8},"text":{"field":"n"}}}]},
{"width":237,"height":189,"layer":[{"data":{"name":"D4"},"mark":{"type":"line","strokeWidth":2.5},"encoding":{"x":{"field":"t","type":"quantitative","scale":{"domain":[0,23.5],"nice":false},"axis":{"values":[0,5,10,15,20],"title":"Time (hours)"}},"y":{"field":"v","type":"quantitative","scale":{"domain":[0,2],"nice":false},"axis":{"values":[0,0.5,1,1.5,2],"format":".1f","title":"OD₄₂₀₋₅₈₀ₙₘ"}},"color":{"field":"s","type":"nominal"}}},{"data":{"values":[{"n":"Dis IV"}]},"mark":{"type":"text","align":"left","baseline":"alphabetic","fontSize":26,"fontWeight":"bold","font":"Liberation Sans","color":"#000000"},"encoding":{"x":{"datum":10.71},"y":{"datum":1.8},"text":{"field":"n"}}}]},
{"width":242,"height":189,"layer":[{"data":{"name":"D5"},"mark":{"type":"line","strokeWidth":2.5},"encoding":{"x":{"field":"t","type":"quantitative","scale":{"domain":[0,24],"nice":false},"axis":{"values":[0,5,10,15,20],"title":"Time (hours)"}},"y":{"field":"v","type":"quantitative","scale":{"domain":[0,2],"nice":false},"axis":{"values":[0,0.5,1,1.5,2],"format":".1f","title":null}},"color":{"field":"s","type":"nominal"}}},{"data":{"values":[{"n":"Dis V"}]},"mark":{"type":"text","align":"left","baseline":"alphabetic","fontSize":26,"fontWeight":"bold","font":"Liberation Sans","color":"#000000"},"encoding":{"x":{"datum":10.71},"y":{"datum":1.8},"text":{"field":"n"}}}]},
{"width":242,"height":189,"layer":[{"data":{"name":"D8"},"mark":{"type":"line","strokeWidth":2.5},"encoding":{"x":{"field":"t","type":"quantitative","scale":{"domain":[0,24],"nice":false},"axis":{"values":[0,5,10,15,20],"title":"Time (hours)"}},"y":{"field":"v","type":"quantitative","scale":{"domain":[0,2],"nice":false},"axis":{"values":[0,0.5,1,1.5,2],"format":".1f","title":null}},"color":{"field":"s","type":"nominal"}}},{"data":{"values":[{"n":"Dis VIII"}]},"mark":{"type":"text","align":"left","baseline":"alphabetic","fontSize":26,"fontWeight":"bold","font":"Liberation Sans","color":"#000000"},"encoding":{"x":{"datum":10.71},"y":{"datum":1.8},"text":{"field":"n"}}}]},
{"width":242,"height":189,"layer":[{"data":{"name":"D9"},"mark":{"type":"line","strokeWidth":2.5},"encoding":{"x":{"field":"t","type":"quantitative","scale":{"domain":[0,20],"nice":false},"axis":{"values":[0,5,10,15,20],"title":"Time (hours)"}},"y":{"field":"v","type":"quantitative","scale":{"domain":[0,2],"nice":false},"axis":{"values":[0,0.5,1,1.5,2],"format":".1f","title":"OD₄₂₀₋₅₈₀ₙₘ"}},"color":{"field":"s","type":"nominal"}}},{"data":{"values":[{"n":"Dis IX"}]},"mark":{"type":"text","align":"left","baseline":"alphabetic","fontSize":26,"fontWeight":"bold","font":"Liberation Sans","color":"#000000"},"encoding":{"x":{"datum":8.93},"y":{"datum":1.8},"text":{"field":"n"}}}]},
{"width":242,"height":189,"layer":[{"data":{"name":"D10"},"mark":{"type":"line","strokeWidth":2.5},"encoding":{"x":{"field":"t","type":"quantitative","scale":{"domain":[0,20],"nice":false},"axis":{"values":[0,5,10,15,20],"title":"Time (hours)"}},"y":{"field":"v","type":"quantitative","scale":{"domain":[0,2],"nice":false},"axis":{"values":[0,0.5,1,1.5,2],"format":".1f","title":null}},"color":{"field":"s","type":"nominal"}}},{"data":{"values":[{"n":"Dis X"}]},"mark":{"type":"text","align":"left","baseline":"alphabetic","fontSize":26,"fontWeight":"bold","font":"Liberation Sans","color":"#000000"},"encoding":{"x":{"datum":8.93},"y":{"datum":1.8},"text":{"field":"n"}}}]},
{"width":242,"height":189,"layer":[{"data":{"name":"D11"},"mark":{"type":"line","strokeWidth":2.5},"encoding":{"x":{"field":"t","type":"quantitative","scale":{"domain":[0,20],"nice":false},"axis":{"values":[0,5,10,15,20],"title":"Time (hours)"}},"y":{"field":"v","type":"quantitative","scale":{"domain":[0,2],"nice":false},"axis":{"values":[0,0.5,1,1.5,2],"format":".1f","title":null}},"color":{"field":"s","type":"nominal"}}},{"data":{"values":[{"n":"Dis XI"}]},"mark":{"type":"text","align":"left","baseline":"alphabetic","fontSize":26,"fontWeight":"bold","font":"Liberation Sans","color":"#000000"},"encoding":{"x":{"datum":8.93},"y":{"datum":1.8},"text":{"field":"n"}}}]},
{"width":242,"height":189,"layer":[{"data":{"name":"D12"},"mark":{"type":"line","strokeWidth":2.5},"encoding":{"x":{"field":"t","type":"quantitative","scale":{"domain":[0,20],"nice":false},"axis":{"values":[0,5,10,15,20],"title":"Time (hours)"}},"y":{"field":"v","type":"quantitative","scale":{"domain":[0,2],"nice":false},"axis":{"values":[0,0.5,1,1.5,2],"format":".1f","title":"OD₄₂₀₋₅₈₀ₙₘ"}},"color":{"field":"s","type":"nominal"}}},{"data":{"values":[{"n":"Dis XII"}]},"mark":{"type":"text","align":"left","baseline":"alphabetic","fontSize":26,"fontWeight":"bold","font":"Liberation Sans","color":"#000000"},"encoding":{"x":{"datum":8.93},"y":{"datum":1.8},"text":{"field":"n"}}}]},
{"width":242,"height":189,"layer":[{"data":{"name":"D13"},"mark":{"type":"line","strokeWidth":2.5},"encoding":{"x":{"field":"t","type":"quantitative","scale":{"domain":[0,20],"nice":false},"axis":{"values":[0,5,10,15,20],"title":"Time (hours)"}},"y":{"field":"v","type":"quantitative","scale":{"domain":[0,2],"nice":false},"axis":{"values":[0,0.5,1,1.5,2],"format":".1f","title":null}},"color":{"field":"s","type":"nominal"}}},{"data":{"values":[{"n":"Dis XIII"}]},"mark":{"type":"text","align":"left","baseline":"alphabetic","fontSize":26,"fontWeight":"bold","font":"Liberation Sans","color":"#000000"},"encoding":{"x":{"datum":8.93},"y":{"datum":1.8},"text":{"field":"n"}}}]},
{"width":242,"height":189,"layer":[{"data":{"name":"D14"},"mark":{"type":"line","strokeWidth":2.5},"encoding":{"x":{"field":"t","type":"quantitative","scale":{"domain":[0,20],"nice":false},"axis":{"values":[0,5,10,15,20],"title":"Time (hours)"}},"y":{"field":"v","type":"quantitative","scale":{"domain":[0,2],"nice":false},"axis":{"values":[0,0.5,1,1.5,2],"format":".1f","title":null}},"color":{"field":"s","type":"nominal"}}},{"data":{"values":[{"n":"Dis XIV"}]},"mark":{"type":"text","align":"left","baseline":"alphabetic","fontSize":26,"fontWeight":"bold","font":"Liberation Sans","color":"#000000"},"encoding":{"x":{"datum":8.93},"y":{"datum":1.8},"text":{"field":"n"}}}]},
{"width":242,"height":189,"layer":[{"data":{"name":"D15"},"mark":{"type":"line","strokeWidth":2.5},"encoding":{"x":{"field":"t","type":"quantitative","scale":{"domain":[0,20],"nice":false},"axis":{"values":[0,5,10,15,20],"title":"Time (hours)"}},"y":{"field":"v","type":"quantitative","scale":{"domain":[0,2],"nice":false},"axis":{"values":[0,0.5,1,1.5,2],"format":".1f","title":"OD₄₂₀₋₅₈₀ₙₘ"}},"color":{"field":"s","type":"nominal"}}},{"data":{"values":[{"n":"Dis XV"}]},"mark":{"type":"text","align":"left","baseline":"alphabetic","fontSize":26,"fontWeight":"bold","font":"Liberation Sans","color":"#000000"},"encoding":{"x":{"datum":8.93},"y":{"datum":1.8},"text":{"field":"n"}}}]},
{"width":242,"height":189,"layer":[{"data":{"name":"D16"},"mark":{"type":"line","strokeWidth":2.5},"encoding":{"x":{"field":"t","type":"quantitative","scale":{"domain":[0,20],"nice":false},"axis":{"values":[0,5,10,15,20],"title":"Time (hours)"}},"y":{"field":"v","type":"quantitative","scale":{"domain":[0,2],"nice":false},"axis":{"values":[0,0.5,1,1.5,2],"format":".1f","title":null}},"color":{"field":"s","type":"nominal"}}},{"data":{"values":[{"n":"Dis XVI"}]},"mark":{"type":"text","align":"left","baseline":"alphabetic","fontSize":26,"fontWeight":"bold","font":"Liberation Sans","color":"#000000"},"encoding":{"x":{"datum":8.93},"y":{"datum":1.8},"text":{"field":"n"}}}]}
],
"config":{
"view":{"stroke":null},
"font":"Liberation Sans",
"axis":{"grid":false,"domainColor":"#000000","domainWidth":2.5,"tickColor":"#000000","tickWidth":2,"tickSize":6,"labelFont":"Liberation Sans","labelFontSize":23,"labelColor":"#000000","titleFont":"Liberation Sans","titleFontWeight":"normal","titleColor":"#000000"},
"axisX":{"labelPadding":9,"titleFontSize":22,"titlePadding":3,"labelFlush":false,"labelOverlap":false},
"axisY":{"labelPadding":1,"titleFontSize":33,"titlePadding":33,"labelOverlap":false},
"legend":{"labelFont":"Liberation Sans","labelFontSize":26,"labelColor":"#000000","symbolType":"stroke","symbolStrokeWidth":5,"symbolSize":625,"rowPadding":4.5,"labelOffset":0,"offset":11}
}
}
